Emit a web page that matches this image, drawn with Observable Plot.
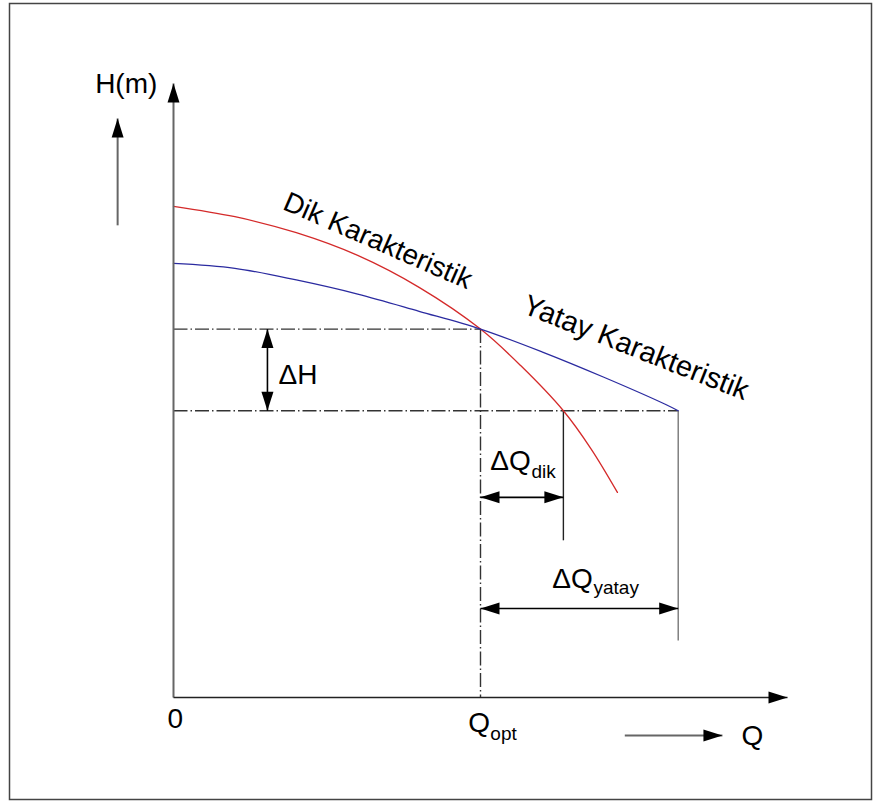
<!DOCTYPE html>
<html>
<head>
<meta charset="utf-8">
<script src="https://cdn.jsdelivr.net/npm/d3@7"></script>
<script src="https://cdn.jsdelivr.net/npm/@observablehq/plot@0.6"></script>
<style>
  html, body { margin: 0; padding: 0; background: #fff; }
  #chart svg { display: block; }
</style>
</head>
<body>
<div id="chart"></div>
<script>
// ---- data (Q and H in arbitrary units) ----
const dikQ   = [0, 1, 2, 3, 4, 5, 5.65, 6.35, 6.8, 7.23];
const dikH   = [8.0, 7.83, 7.57, 7.2, 6.68, 6.0, 5.41, 4.67, 4.05, 3.34];
const yatayQ = [0, 1, 2, 3, 4, 5, 6, 7, 8, 8.22];
const yatayH = [7.07, 6.99, 6.80, 6.57, 6.29, 6.0, 5.63, 5.22, 4.78, 4.67];

const Qopt = 5.0;      // operating point flow
const Hopt = 6.0;      // operating point head
const Hlow = 4.67;     // reduced head
const Qdik = 6.35;     // flow of steep curve at reduced head
const Qyatay = 8.22;   // flow of flat curve at reduced head

const dik = dikQ.map((q, i) => ({q, h: dikH[i]}));
const yatay = yatayQ.map((q, i) => ({q, h: yatayH[i]}));

// filled, elongated arrowhead (tip at origin, pointing up)
const head = {
  draw(ctx) {
    ctx.moveTo(0, 0);
    ctx.lineTo(6, 19);
    ctx.lineTo(-6, 19);
    ctx.closePath();
  }
};

const dash = "14,3,1.5,3";
const font = "'Liberation Sans', Arial, sans-serif";
const big = 28, small = 19;

const guides = [
  {x1: 0, y1: Hopt, x2: Qopt, y2: Hopt},
  {x1: 0, y1: Hlow, x2: Qyatay, y2: Hlow},
  {x1: Qopt, y1: Hopt, x2: Qopt, y2: 0}
];

const arrows = [
  {x1: 1.53, y1: Hopt, x2: 1.53, y2: Hlow},
  {x1: Qopt, y1: 3.26, x2: Qdik, y2: 3.26},
  {x1: Qopt, y1: 1.45, x2: Qyatay, y2: 1.45}
];
const heads = [
  {q: 1.53, h: Hopt, r: 0}, {q: 1.53, h: Hlow, r: 180},
  {q: Qopt, h: 3.26, r: -90}, {q: Qdik, h: 3.26, r: 90},
  {q: Qopt, h: 1.45, r: -90}, {q: Qyatay, h: 1.45, r: 90}
];

const plot = Plot.plot({
  width: 874,
  height: 802,
  marginLeft: 173,
  marginRight: 87,
  marginTop: 83,
  marginBottom: 105,
  x: {domain: [0, 10], axis: null},
  y: {domain: [0, 10], axis: null},
  style: {fontFamily: font, background: "#fff", color: "#000"},
  marks: [
    // outer border
    Plot.frame({stroke: "#444", strokeWidth: 1.5, insetLeft: -164, insetTop: -80, insetRight: -84, insetBottom: -102}),
    // dashed guides
    Plot.link(guides, {x1: "x1", y1: "y1", x2: "x2", y2: "y2", stroke: "#333", strokeWidth: 1.4, strokeDasharray: dash}),
    // solid drop lines
    Plot.link([{x1: Qdik, y1: Hlow, x2: Qdik, y2: 2.56}], {x1: "x1", y1: "y1", x2: "x2", y2: "y2", stroke: "#222", strokeWidth: 1.4}),
    Plot.link([{x1: Qyatay, y1: Hlow, x2: Qyatay, y2: 0.93}], {x1: "x1", y1: "y1", x2: "x2", y2: "y2", stroke: "#777", strokeWidth: 1.4}),
    // curves
    Plot.line(dik, {x: "q", y: "h", stroke: "#d42a2a", strokeWidth: 1.3, curve: "catmull-rom"}),
    Plot.line(yatay, {x: "q", y: "h", stroke: "#2b2ba0", strokeWidth: 1.3, curve: "catmull-rom"}),
    // dimension arrows
    Plot.link(arrows, {x1: "x1", y1: "y1", x2: "x2", y2: "y2", stroke: "#000", strokeWidth: 1.6}),
    Plot.dot(heads, {x: "q", y: "h", rotate: "r", symbol: head, fill: "#000", stroke: null, r: 5}),
    // axes
    Plot.link([{x1: 0, y1: 0, x2: 0, y2: 10}], {x1: "x1", y1: "y1", x2: "x2", y2: "y2", stroke: "#666", strokeWidth: 2}),
    Plot.link([{x1: 0, y1: 0, x2: 10, y2: 0}], {x1: "x1", y1: "y1", x2: "x2", y2: "y2", stroke: "#222", strokeWidth: 1.6}),
    Plot.dot([{q: 0, h: 10, r: 0}, {q: 10, h: 0, r: 90}], {x: "q", y: "h", rotate: "r", symbol: head, fill: "#000", stroke: null, r: 5}),
    // small direction arrows
    Plot.link([{x1: -0.91, y1: 7.69, x2: -0.91, y2: 9.43}, {x1: 7.35, y1: -0.62, x2: 8.94, y2: -0.62}],
      {x1: "x1", y1: "y1", x2: "x2", y2: "y2", stroke: "#666", strokeWidth: 2}),
    Plot.dot([{q: -0.91, h: 9.43, r: 0}, {q: 8.94, h: -0.62, r: 90}], {x: "q", y: "h", rotate: "r", symbol: head, fill: "#000", stroke: null, r: 5}),
    // labels
    Plot.text([{q: -0.77, h: 9.84, t: "H(m)"}, {q: 0.03, h: -0.49, t: "0"}],
      {x: "q", y: "h", text: "t", textAnchor: "middle", lineAnchor: "bottom", fontSize: big, fill: "#000"}),
    Plot.text([
        {q: 4.80, h: -0.57, t: "Q"},
        {q: 9.25, h: -0.78, t: "Q"},
        {q: 1.71, h: 5.11, t: "ΔH"},
        {q: 5.16, h: 3.70, t: "ΔQ"},
        {q: 6.17, h: 1.79, t: "ΔQ"}
      ],
      {x: "q", y: "h", text: "t", textAnchor: "start", lineAnchor: "bottom", fontSize: big, fill: "#000"}),
    Plot.text([
        {q: 5.16, h: -0.70, t: "opt"},
        {q: 5.83, h: 3.57, t: "dik"},
        {q: 6.84, h: 1.69, t: "yatay"}
      ],
      {x: "q", y: "h", text: "t", textAnchor: "start", lineAnchor: "bottom", fontSize: small, fill: "#000"}),
    Plot.text([{q: 1.76, h: 7.96, t: "Dik Karakteristik"}],
      {x: "q", y: "h", text: "t", textAnchor: "start", lineAnchor: "bottom", rotate: 23.5, fontSize: big, fill: "#000"}),
    Plot.text([{q: 5.66, h: 6.27, t: "Yatay Karakteristik"}],
      {x: "q", y: "h", text: "t", textAnchor: "start", lineAnchor: "bottom", rotate: 21.5, fontSize: 29, fill: "#000"})
  ]
});
document.getElementById("chart").appendChild(plot);
</script>
</body>
</html>
